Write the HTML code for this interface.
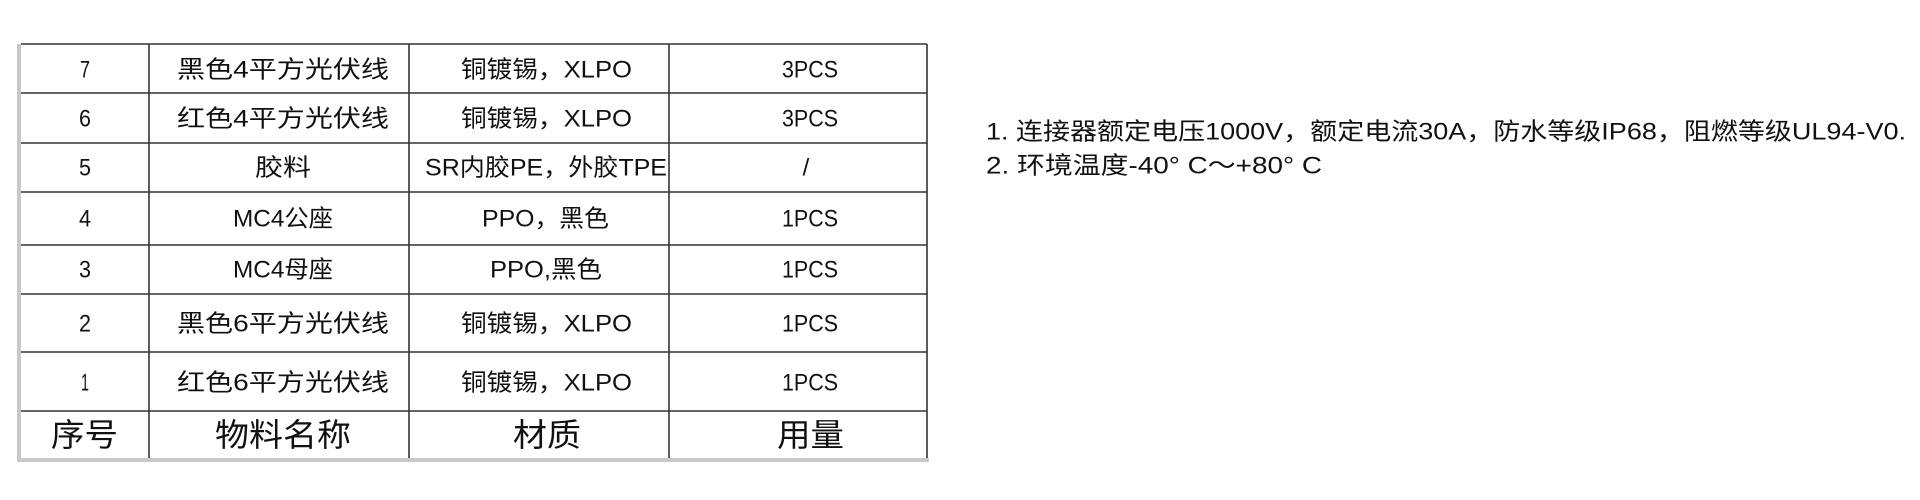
<!DOCTYPE html>
<html><head><meta charset="utf-8"><style>
html,body{margin:0;padding:0;background:#fff;width:1920px;height:500px;overflow:hidden}
svg text{font-family:"Liberation Sans","Noto Sans CJK SC",sans-serif;fill:#111}
</style></head><body>
<svg width="1920" height="500" xmlns="http://www.w3.org/2000/svg">
<rect x="17" y="44" width="4" height="418" fill="#c8c8c8"/>
<rect x="17" y="458" width="912" height="4" fill="#c8c8c8"/>
<g stroke="#333" stroke-width="1.6">
<line x1="21" y1="44" x2="927" y2="44"/>
<line x1="21" y1="93" x2="927" y2="93"/>
<line x1="21" y1="143" x2="927" y2="143"/>
<line x1="21" y1="192" x2="927" y2="192"/>
<line x1="21" y1="245" x2="927" y2="245"/>
<line x1="21" y1="294" x2="927" y2="294"/>
<line x1="21" y1="352" x2="927" y2="352"/>
<line x1="21" y1="411" x2="927" y2="411"/>
<line x1="149" y1="44" x2="149" y2="458"/>
<line x1="409" y1="44" x2="409" y2="458"/>
<line x1="669" y1="44" x2="669" y2="458"/>
<line x1="927" y1="44" x2="927" y2="458"/>
</g>
<g font-size="24" dominant-baseline="central">
<text x="85" y="70" text-anchor="middle" textLength="10" lengthAdjust="spacingAndGlyphs">7</text>
<text x="177" y="70" textLength="212" lengthAdjust="spacingAndGlyphs">黑色4平方光伏线</text>
<text x="461" y="70" textLength="171" lengthAdjust="spacingAndGlyphs">铜镀锡，XLPO</text>
<text x="782" y="70" textLength="56" lengthAdjust="spacingAndGlyphs">3PCS</text>

<text x="85" y="119" text-anchor="middle" textLength="12" lengthAdjust="spacingAndGlyphs">6</text>
<text x="177" y="119" textLength="212" lengthAdjust="spacingAndGlyphs">红色4平方光伏线</text>
<text x="461" y="119" textLength="171" lengthAdjust="spacingAndGlyphs">铜镀锡，XLPO</text>
<text x="782" y="119" textLength="56" lengthAdjust="spacingAndGlyphs">3PCS</text>

<text x="85" y="168" text-anchor="middle" textLength="12" lengthAdjust="spacingAndGlyphs">5</text>
<text x="255" y="168" textLength="56" lengthAdjust="spacingAndGlyphs">胶料</text>
<text x="425" y="168" textLength="242" lengthAdjust="spacingAndGlyphs">SR内胶PE，外胶TPE</text>
<text x="806" y="168" text-anchor="middle">/</text>

<text x="85" y="219" text-anchor="middle" textLength="12" lengthAdjust="spacingAndGlyphs">4</text>
<text x="233" y="219" textLength="100" lengthAdjust="spacingAndGlyphs">MC4公座</text>
<text x="482" y="219" textLength="127" lengthAdjust="spacingAndGlyphs">PPO，黑色</text>
<text x="782" y="219" textLength="56" lengthAdjust="spacingAndGlyphs">1PCS</text>

<text x="85" y="270" text-anchor="middle" textLength="12" lengthAdjust="spacingAndGlyphs">3</text>
<text x="233" y="270" textLength="100" lengthAdjust="spacingAndGlyphs">MC4母座</text>
<text x="490" y="270" textLength="112" lengthAdjust="spacingAndGlyphs">PPO,黑色</text>
<text x="782" y="270" textLength="56" lengthAdjust="spacingAndGlyphs">1PCS</text>

<text x="85" y="324" text-anchor="middle" textLength="12" lengthAdjust="spacingAndGlyphs">2</text>
<text x="177" y="324" textLength="212" lengthAdjust="spacingAndGlyphs">黑色6平方光伏线</text>
<text x="461" y="324" textLength="171" lengthAdjust="spacingAndGlyphs">铜镀锡，XLPO</text>
<text x="782" y="324" textLength="56" lengthAdjust="spacingAndGlyphs">1PCS</text>

<text x="85" y="383" text-anchor="middle" textLength="8" lengthAdjust="spacingAndGlyphs">1</text>
<text x="177" y="383" textLength="212" lengthAdjust="spacingAndGlyphs">红色6平方光伏线</text>
<text x="461" y="383" textLength="171" lengthAdjust="spacingAndGlyphs">铜镀锡，XLPO</text>
<text x="782" y="383" textLength="56" lengthAdjust="spacingAndGlyphs">1PCS</text>
</g>
<g font-size="32" dominant-baseline="central">
<text x="51" y="435" textLength="67" lengthAdjust="spacingAndGlyphs">序号</text>
<text x="215" y="435" textLength="136" lengthAdjust="spacingAndGlyphs">物料名称</text>
<text x="513" y="435" textLength="68" lengthAdjust="spacingAndGlyphs">材质</text>
<text x="777" y="435" textLength="67" lengthAdjust="spacingAndGlyphs">用量</text>
</g>
<g font-size="24" dominant-baseline="central">
<text x="986" y="132" textLength="920" lengthAdjust="spacingAndGlyphs">1. 连接器额定电压1000V，额定电流30A，防水等级IP68，阻燃等级UL94-V0.</text>
<text x="986" y="166" textLength="336" lengthAdjust="spacingAndGlyphs">2. 环境温度-40° C～+80° C</text>
</g>
</svg>
</body></html>
